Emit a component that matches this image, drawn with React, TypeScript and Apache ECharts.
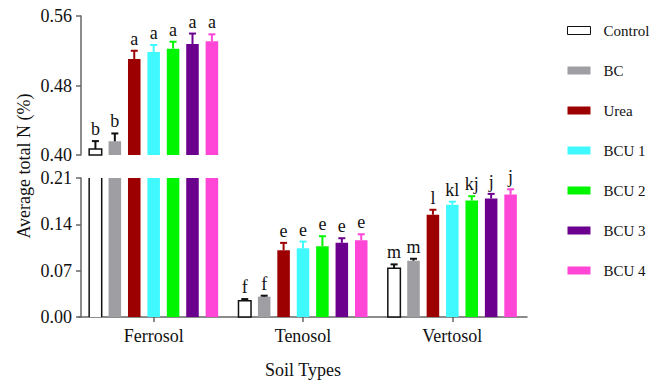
import React, { useEffect, useRef } from 'react';
import * as echarts from 'echarts';

const soils = ['Ferrosol', 'Tenosol', 'Vertosol'];
const treatments = ['Control', 'BC', 'Urea', 'BCU 1', 'BCU 2', 'BCU 3', 'BCU 4'];
const barColors = ['#ffffff', '#9e9ea3', '#9c0000', '#40f9ff', '#00f500', '#6c008e', '#ff46d6'];
const errColors = ['#111111', '#111111', '#9c0000', '#40f9ff', '#00f500', '#6c008e', '#ff46d6'];

// means per treatment across [Ferrosol, Tenosol, Vertosol]
const meanControl = [0.407, 0.0246, 0.0735];
const meanBC = [0.4158, 0.0307, 0.085];
const meanUrea = [0.5105, 0.101, 0.1545];
const meanBCU1 = [0.5186, 0.104, 0.1697];
const meanBCU2 = [0.5224, 0.107, 0.176];
const meanBCU3 = [0.5278, 0.112, 0.179];
const meanBCU4 = [0.5309, 0.116, 0.185];

const errControl = [0.009, 0.0025, 0.006];
const errBC = [0.009, 0.0015, 0.003];
const errUrea = [0.0095, 0.011, 0.0075];
const errBCU1 = [0.008, 0.01, 0.0045];
const errBCU2 = [0.008, 0.015, 0.0065];
const errBCU3 = [0.012, 0.007, 0.007];
const errBCU4 = [0.008, 0.009, 0.008];

const lettersControl = ['b', 'f', 'm'];
const lettersBC = ['b', 'f', 'm'];
const lettersUrea = ['a', 'e', 'l'];
const lettersBCU1 = ['a', 'e', 'kl'];
const lettersBCU2 = ['a', 'e', 'kj'];
const lettersBCU3 = ['a', 'e', 'j'];
const lettersBCU4 = ['a', 'e', 'j'];

const upperTicks = [0.4, 0.48, 0.56];
const lowerTicks = [0, 0.07, 0.14, 0.21];

const means = [meanControl, meanBC, meanUrea, meanBCU1, meanBCU2, meanBCU3, meanBCU4];
const errs = [errControl, errBC, errUrea, errBCU1, errBCU2, errBCU3, errBCU4];
const letters = [lettersControl, lettersBC, lettersUrea, lettersBCU1, lettersBCU2, lettersBCU3, lettersBCU4];

const FONT = 'Liberation Serif';

function makeRender(ti: number) {
  return (params: any, api: any) => {
    const cat = api.value(0);
    const v = api.value(1);
    const e = api.value(2);
    const cs = params.coordSys;
    const band = api.size([1, 0])[0];
    const p = api.coord([cat, v]);
    const cx = p[0] + (ti - 3) * band * 0.13;
    const w = band * 0.084;
    const baseY = cs.y + cs.height;
    const topLimit = cs.y;
    const top = p[1];
    if (top >= baseY) return null;
    const clipped = top < topLimit;
    const yTop = clipped ? topLimit : top;
    const x0 = cx - w / 2;
    const x1 = cx + w / 2;
    const children: any[] = [];
    if (ti === 0) {
      children.push({
        type: 'rect',
        shape: { x: x0, y: yTop, width: w, height: baseY - yTop },
        style: { fill: '#ffffff' },
      });
      if (clipped) {
        children.push({ type: 'line', shape: { x1: x0, y1: yTop, x2: x0, y2: baseY }, style: { stroke: '#111', lineWidth: 1.5 } });
        children.push({ type: 'line', shape: { x1: x1, y1: yTop, x2: x1, y2: baseY }, style: { stroke: '#111', lineWidth: 1.5 } });
      } else {
        children.push({
          type: 'rect',
          shape: { x: x0, y: yTop, width: w, height: baseY - yTop },
          style: { fill: 'none', stroke: '#111', lineWidth: 1.5 },
        });
      }
    } else {
      children.push({
        type: 'rect',
        shape: { x: x0, y: yTop, width: w, height: baseY - yTop },
        style: { fill: barColors[ti] },
      });
    }
    if (!clipped) {
      const et = api.coord([cat, v + e])[1];
      const c = errColors[ti];
      children.push({ type: 'line', shape: { x1: cx, y1: top, x2: cx, y2: et }, style: { stroke: c, lineWidth: 2 } });
      children.push({ type: 'line', shape: { x1: cx - 3.5, y1: et, x2: cx + 3.5, y2: et }, style: { stroke: c, lineWidth: 2 } });
      children.push({
        type: 'text',
        style: {
          text: letters[ti][params.dataIndex],
          x: cx,
          y: et - 3,
          align: 'center',
          verticalAlign: 'bottom',
          fontSize: 18,
          fontFamily: FONT,
          fill: '#111',
        },
      });
    }
    return { type: 'group', children };
  };
}

export default function App() {
  const ref = useRef<HTMLDivElement>(null);
  useEffect(() => {
    document.body.style.margin = '0';
    if (!ref.current) return;
    const chart = echarts.init(ref.current, null, { renderer: 'svg' });
    const series: any[] = [];
    [0, 1].forEach((g) => {
      treatments.forEach((name, ti) => {
        series.push({
          type: 'custom',
          name,
          xAxisIndex: g,
          yAxisIndex: g,
          clip: false,
          itemStyle: ti === 0 ? { color: '#ffffff', borderColor: '#111', borderWidth: 1 } : { color: barColors[ti] },
          renderItem: makeRender(ti),
          encode: { x: 0, y: 1 },
          data: soils.map((s, si) => [si, means[ti][si], errs[ti][si]]),
        });
      });
    });
    const axisLine = { show: true, lineStyle: { color: '#666', width: 1.5 } };
    const yLabel = { fontFamily: FONT, fontSize: 18, color: '#111', margin: 9, formatter: (v: number) => v.toFixed(2) };
    const legendText = {
      fontFamily: FONT, fontSize: 15, color: '#111',
      rich: { t: { fontFamily: FONT, fontSize: 15, color: '#111', padding: [0, 0, 0, 8] } },
    };
    const option: any = {
      animation: false,
      textStyle: { fontFamily: FONT },
      grid: [
        { left: 79, top: 16, width: 448, height: 139 },
        { left: 79, top: 178, width: 448, height: 139 },
      ],
      xAxis: [
        {
          type: 'category', gridIndex: 0, data: soils,
          axisLine: { show: false }, axisTick: { show: false }, axisLabel: { show: false }, splitLine: { show: false },
        },
        {
          type: 'category', gridIndex: 1, data: soils,
          axisLine,
          axisTick: { show: true, alignWithLabel: true, length: 5, lineStyle: { color: '#666', width: 1.5 } },
          axisLabel: { fontFamily: FONT, fontSize: 18, color: '#111', margin: 10 },
          name: 'Soil Types', nameLocation: 'middle', nameGap: 44,
          nameTextStyle: { fontFamily: FONT, fontSize: 18, color: '#111' },
        },
      ],
      yAxis: [
        {
          type: 'value', gridIndex: 0, min: upperTicks[0], max: upperTicks[upperTicks.length - 1],
          interval: upperTicks[1] - upperTicks[0], offset: -2,
          axisLine, axisTick: { show: true, length: 5, lineStyle: { color: '#666', width: 1.5 } },
          axisLabel: yLabel, splitLine: { show: false },
        },
        {
          type: 'value', gridIndex: 1, min: lowerTicks[0], max: lowerTicks[lowerTicks.length - 1],
          interval: lowerTicks[1] - lowerTicks[0], offset: -2,
          axisLine, axisTick: { show: true, length: 5, lineStyle: { color: '#666', width: 1.5 } },
          axisLabel: yLabel, splitLine: { show: false },
        },
      ],
      legend: {
        orient: 'vertical', left: 567, top: 23, padding: 0, itemWidth: 23, itemHeight: 8, itemGap: 25, icon: 'rect',
        formatter: (n: string) => '{t|' + n + '}',
        data: treatments.map((n, ti) => ({
          name: n,
          itemStyle: ti === 0 ? { color: '#ffffff', borderColor: '#111', borderWidth: 1 } : { color: barColors[ti], borderWidth: 0 },
        })),
        textStyle: legendText,
      },
      graphic: [
        {
          type: 'text', x: 24, y: 166, rotation: Math.PI / 2,
          style: { text: 'Average total N (%)', fontSize: 18, fontFamily: FONT, fill: '#111', align: 'center', verticalAlign: 'middle' },
        },
      ],
      series,
    };
    chart.setOption(option);
    return () => chart.dispose();
  }, []);
  return <div ref={ref} style={{ width: 650, height: 380 }} />;
}
